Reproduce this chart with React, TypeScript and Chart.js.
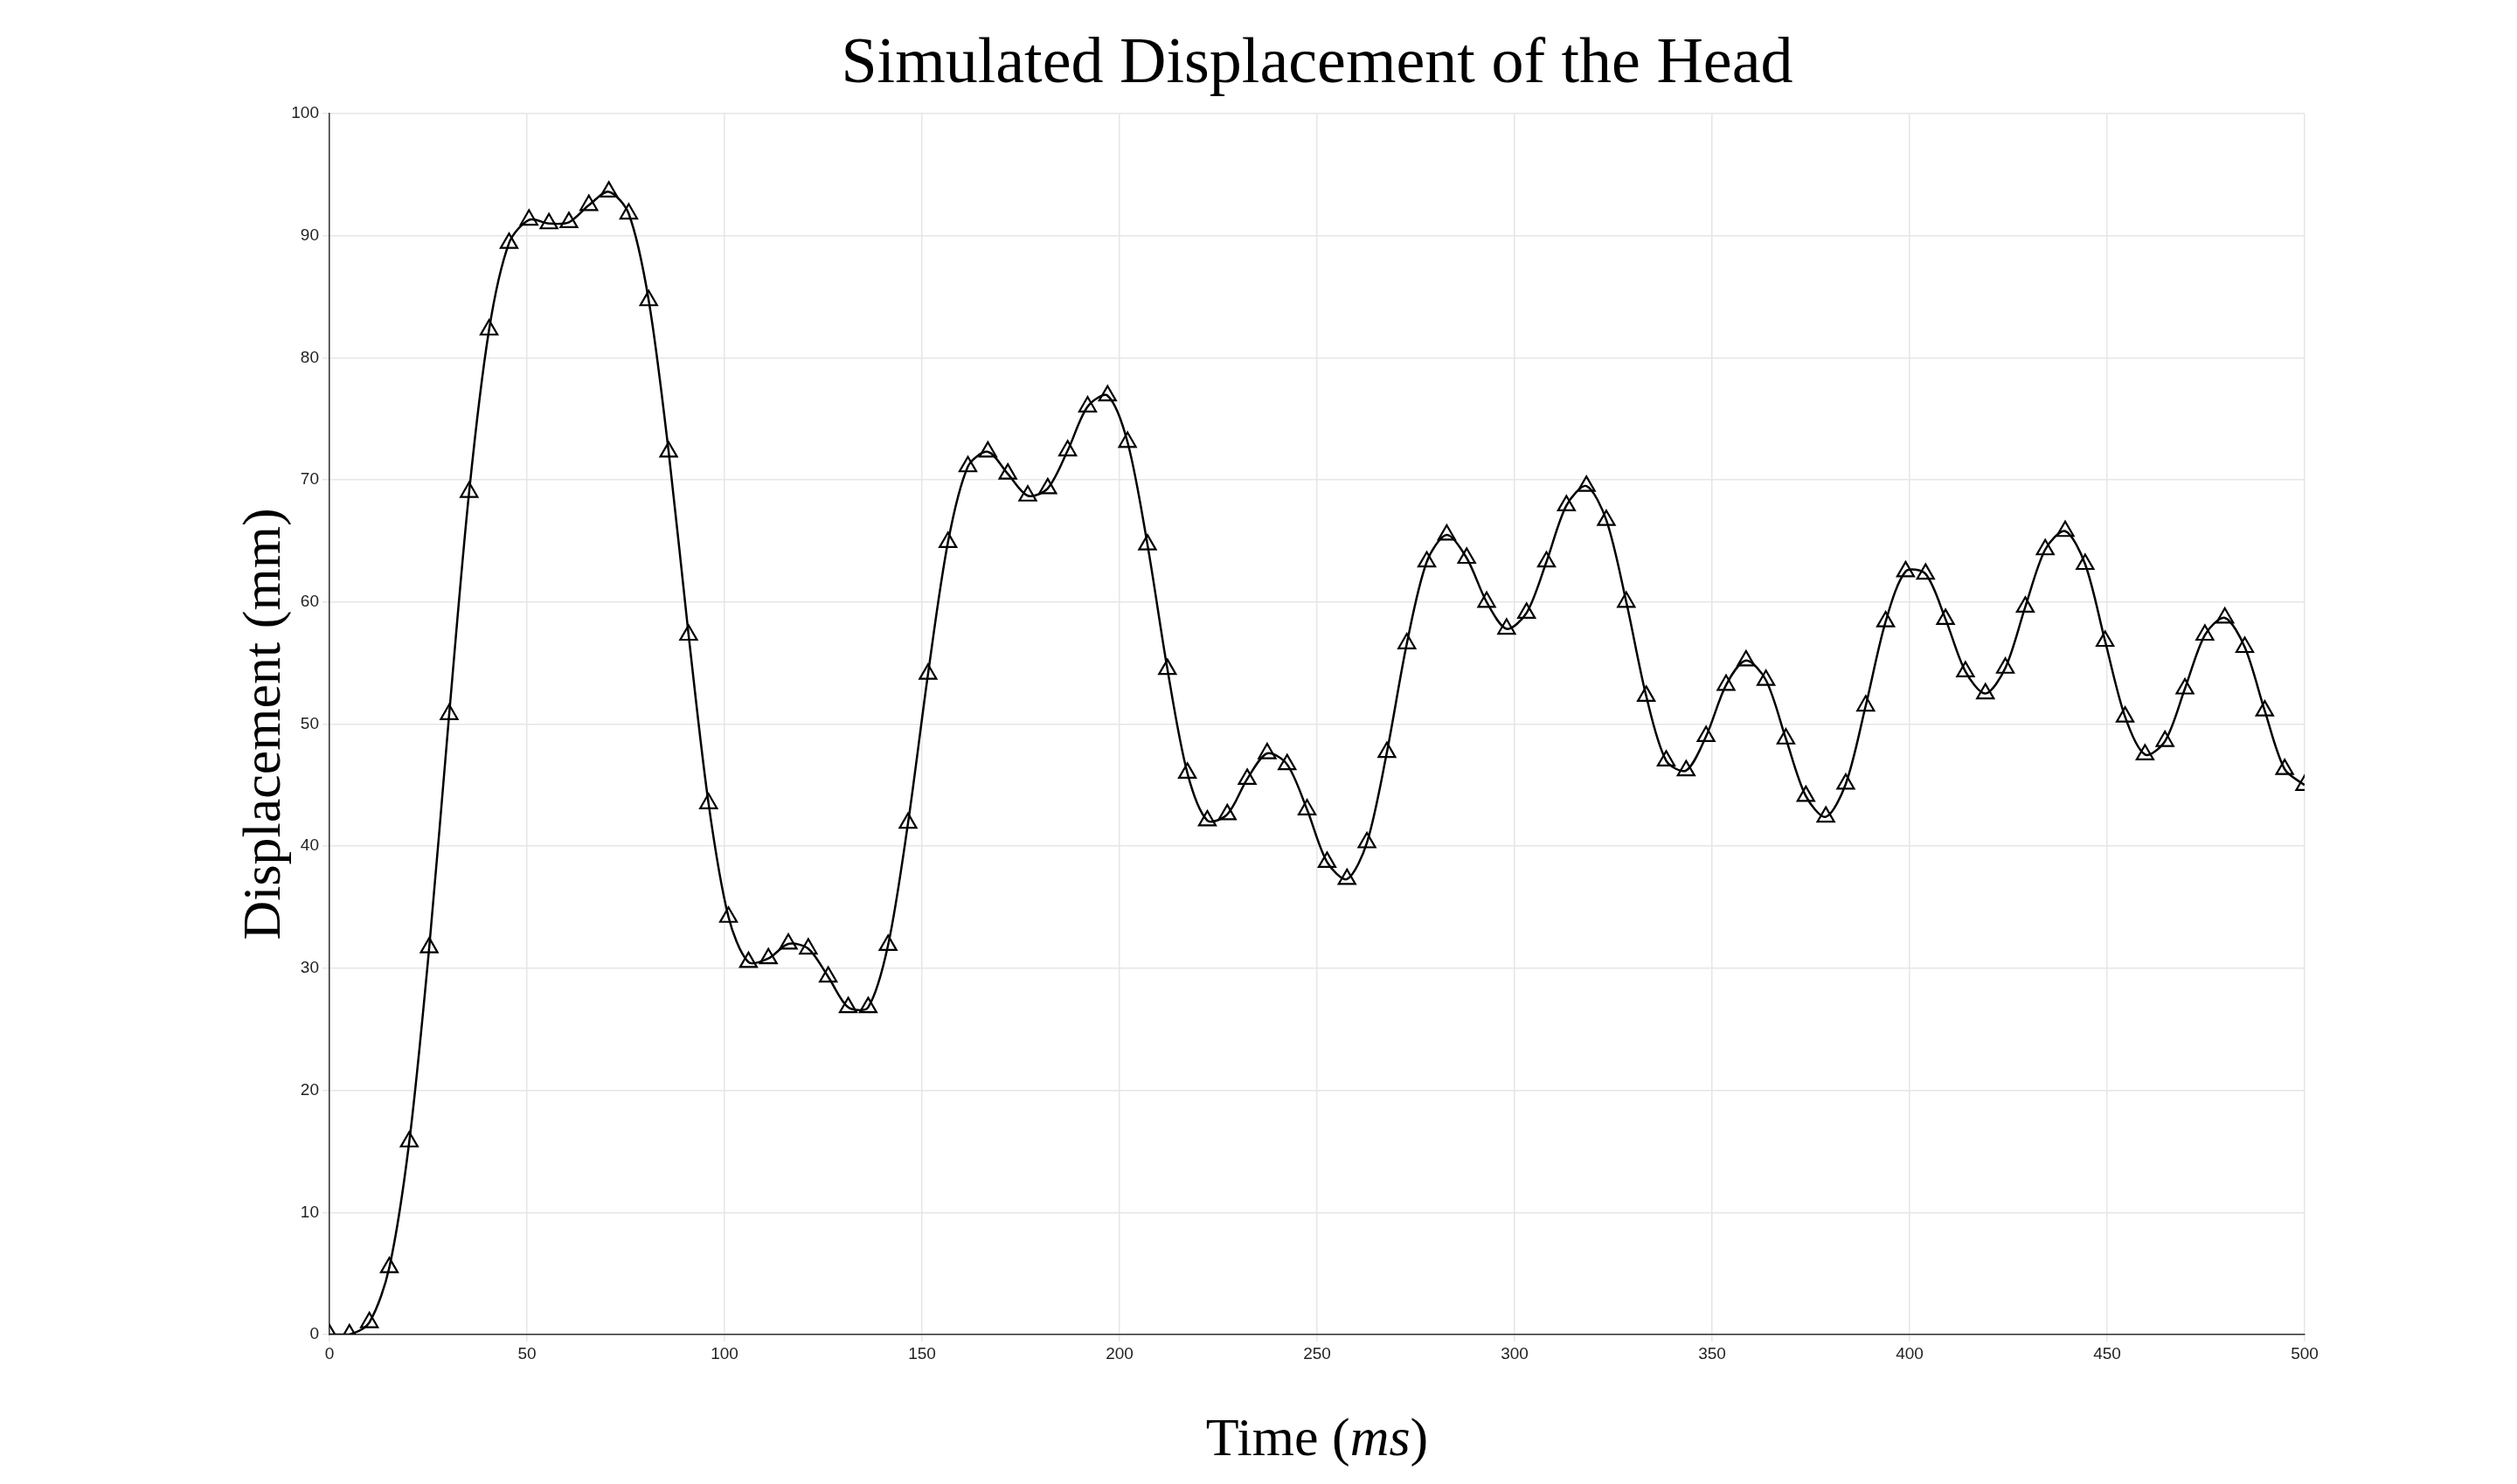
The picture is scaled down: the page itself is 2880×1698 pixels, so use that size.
import { useEffect, useRef } from 'react';
import { Chart, registerables } from 'chart.js';

Chart.register(...registerables);

// time samples (ms)
const timeMs = [
  0, 5.05, 10.1, 15.15, 20.2, 25.25, 30.3, 35.35, 40.4, 45.45,
  50.51, 55.56, 60.61, 65.66, 70.71, 75.76, 80.81, 85.86, 90.91, 95.96,
  101.01, 106.06, 111.11, 116.16, 121.21, 126.26, 131.31, 136.36, 141.41, 146.46,
  151.52, 156.57, 161.62, 166.67, 171.72, 176.77, 181.82, 186.87, 191.92, 196.97,
  202.02, 207.07, 212.12, 217.17, 222.22, 227.27, 232.32, 237.37, 242.42, 247.47,
  252.53, 257.58, 262.63, 267.68, 272.73, 277.78, 282.83, 287.88, 292.93, 297.98,
  303.03, 308.08, 313.13, 318.18, 323.23, 328.28, 333.33, 338.38, 343.43, 348.48,
  353.54, 358.59, 363.64, 368.69, 373.74, 378.79, 383.84, 388.89, 393.94, 398.99,
  404.04, 409.09, 414.14, 419.19, 424.24, 429.29, 434.34, 439.39, 444.44, 449.49,
  454.55, 459.6, 464.65, 469.7, 474.75, 479.8, 484.85, 489.9, 494.95, 500,
];

// head displacement (mm)
const displacement = [
  0, 0, 1, 5.5, 15.8, 31.7, 50.8, 69, 82.3, 89.4,
  91.3, 91, 91.1, 92.5, 93.6, 91.8, 84.7, 72.3, 57.3, 43.5,
  34.2, 30.5, 30.8, 32, 31.6, 29.3, 26.8, 26.8, 31.9, 41.9,
  54.1, 64.9, 71.1, 72.3, 70.5, 68.7, 69.3, 72.4, 76, 76.9,
  73.1, 64.7, 54.5, 46, 42.1, 42.6, 45.5, 47.6, 46.7, 43,
  38.7, 37.3, 40.3, 47.7, 56.6, 63.3, 65.5, 63.6, 60, 57.8,
  59.1, 63.3, 67.9, 69.5, 66.7, 60, 52.3, 47, 46.2, 49,
  53.2, 55.2, 53.6, 48.8, 44.1, 42.4, 45.1, 51.5, 58.4, 62.5,
  62.3, 58.6, 54.3, 52.5, 54.6, 59.6, 64.3, 65.8, 63.1, 56.8,
  50.6, 47.5, 48.6, 52.9, 57.3, 58.7, 56.3, 51.1, 46.3, 45,
];

const SERIF = '"Liberation Serif", "DejaVu Serif", serif';

const titlesPlugin = {
  id: 'matlabTitles',
  afterDraw(chart: Chart) {
    const { ctx, chartArea } = chart;
    const cx = (chartArea.left + chartArea.right) / 2;
    ctx.save();
    ctx.fillStyle = '#000';
    ctx.textBaseline = 'alphabetic';
    // main title
    ctx.font = `74px ${SERIF}`;
    ctx.textAlign = 'center';
    ctx.fillText('Simulated Displacement of the Head', cx, 86);
    // x axis title with italic ms
    ctx.font = `62px ${SERIF}`;
    const a = 'Time (';
    const c = ')';
    const wA = ctx.measureText(a).width;
    const wC = ctx.measureText(c).width;
    ctx.font = `italic 62px ${SERIF}`;
    const wB = ctx.measureText('ms').width;
    let x = cx - (wA + wB + wC) / 2;
    const y = chartArea.bottom + 138;
    ctx.textAlign = 'left';
    ctx.font = `62px ${SERIF}`;
    ctx.fillText(a, x, y);
    x += wA;
    ctx.font = `italic 62px ${SERIF}`;
    ctx.fillText('ms', x, y);
    x += wB;
    ctx.font = `62px ${SERIF}`;
    ctx.fillText(c, x, y);
    // y axis title
    ctx.translate(312, (chartArea.top + chartArea.bottom) / 2);
    ctx.rotate(-Math.PI / 2);
    ctx.textAlign = 'center';
    ctx.fillText('Displacement (mm)', 0, 0);
    ctx.restore();
  },
};

const App: React.FC = () => {
  const canvasRef = useRef<HTMLCanvasElement | null>(null);

  useEffect(() => {
    const ctx = canvasRef.current?.getContext('2d');
    if (!ctx) return;

    const chart = new Chart(ctx, {
      type: 'line',
      data: {
        datasets: [
          {
            label: 'Displacement',
            data: timeMs.map((t, i) => ({ x: t, y: displacement[i] })),
            borderColor: '#000',
            borderWidth: 2.5,
            pointStyle: 'triangle',
            pointRadius: 11,
            pointBorderWidth: 2.2,
            pointBorderColor: '#000',
            pointBackgroundColor: 'rgba(255,255,255,0)',
            tension: 0.3,
          },
        ],
      },
      options: {
        animation: false,
        responsive: false,
        devicePixelRatio: 1,
        layout: { padding: { left: 0, top: 122, right: 235, bottom: 0 } },
        plugins: { legend: { display: false }, tooltip: { enabled: false } },
        scales: {
          x: {
            type: 'linear',
            min: 0,
            max: 500,
            ticks: { stepSize: 50, color: '#222', font: { size: 19, family: '"Liberation Sans", Arial' }, maxRotation: 0 },
            grid: { color: '#e6e6e6', lineWidth: 1.5, tickLength: 8 },
            border: { color: '#333', width: 1.5 },
            afterFit: (s) => { s.height = 163; },
          },
          y: {
            min: 0,
            max: 100,
            ticks: { stepSize: 10, color: '#222', font: { size: 19, family: '"Liberation Sans", Arial' }, padding: 4 },
            grid: { color: '#e6e6e6', lineWidth: 1.5, tickLength: 8 },
            border: { color: '#333', width: 1.5 },
            afterFit: (s) => { s.width = 369; },
          },
        },
      },
      plugins: [titlesPlugin],
    });

    return () => chart.destroy();
  }, []);

  return (
    <div style={{ width: 2864, height: 1682, background: '#fff' }}>
      <canvas ref={canvasRef} width={2864} height={1682} style={{ width: 2864, height: 1682 }} />
    </div>
  );
};

export default App;
